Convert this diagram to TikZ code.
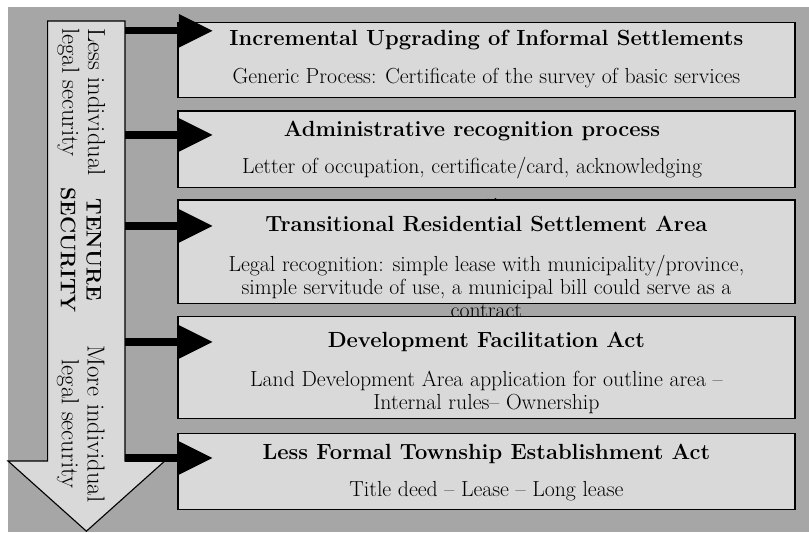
\documentclass[tikz,border=0pt]{standalone}
\usepackage{xcolor}
\usepackage{tikz}
\usetikzlibrary{positioning, arrows.meta}

\definecolor{bggray}{HTML}{A6A6A6}
\definecolor{boxgray}{HTML}{D9D9D9}

\tikzset{
  panel/.style={draw=black, line width=1pt, fill=boxgray, minimum width=15.43cm, inner sep=0pt},
  headtxt/.style={font=\fontsize{15.6}{18}\selectfont\bfseries, inner sep=0pt, anchor=base},
  bodytxt/.style={font=\fontsize{15.5}{16.6}\selectfont, align=center, inner sep=0pt, anchor=base},
  sidetxt/.style={font=\fontsize{17.5}{18.3}\selectfont, rotate=-90, inner sep=0pt},
  feed/.style={line width=5pt, -{Triangle[length=24pt, width=24pt, line width=0pt 0]}},
}

\begin{document}
\begin{tikzpicture}
        \useasboundingbox (0,0) rectangle (20.225,13.3);
        \fill[bggray] (0.2,0) rectangle (20.225,13.125);

        % tenure security arrow
        \draw[fill=boxgray, line width=0.8pt] (1.19,12.775) -- (3.125,12.775) -- (3.125,1.775)
          -- (4.12,1.775) -- (2.16,0.02) -- (0.2,1.775) -- (1.19,1.775) -- cycle;
        \node[sidetxt, anchor=west, align=left] (less) at (2.03,12.6) {Less individual\\legal security};
        \node[sidetxt, font=\fontsize{15}{18.3}\selectfont\bfseries, align=center] (tenure) at (2.02,7.05) {TENURE\\SECURITY};
        \node[sidetxt, align=center] (more) at (2.02,2.7) {More individual\\legal security};

        \coordinate (s1) at (3.125,12.53);
        \coordinate (s2) at (3.125,9.925);
        \coordinate (s3) at (3.125,7.65);
        \coordinate (s4) at (3.125,4.75);
        \coordinate (s5) at (3.125,1.85);

        % the five processes (a body's base is its last line)
        \node[panel, minimum height=1.875cm] (b1) at (12.16,11.795) {};
        \node[headtxt] (h1) at (12.16,12.15) {Incremental Upgrading of Informal Settlements};
        \node[bodytxt] (t1) at (12.16,11.2) {Generic Process: Certificate of the survey of basic services};

        \node[panel, minimum height=1.9175cm] (b2) at (12.16,9.566) {};
        \node[headtxt] (h2) at (11.8,9.8825) {Administrative recognition process};
        \node[bodytxt] (t2) at (11.8,7.995) {Letter of occupation, certificate/card, acknowledging\\[0.38cm]occupation};

        \node[panel, minimum height=2.5925cm] (b3) at (12.16,7.004) {};
        \node[headtxt] (h3) at (12.16,7.5075) {Transitional Residential Settlement Area};
        \node[bodytxt] (t3) at (12.16,5.35) {Legal recognition: simple lease with municipality/province,\\simple servitude of use, a municipal bill could serve as a\\contract};

        \node[panel, minimum height=2.55cm] (b4) at (12.16,4.108) {};
        \node[headtxt] (h4) at (12.16,4.6075) {Development Facilitation Act};
        \node[bodytxt] (t4) at (12.16,3.05) {Land Development Area application for outline area \textendash\\Internal rules\textendash{} Ownership};

        \node[panel, minimum height=1.9cm] (b5) at (12.16,1.5075) {};
        \node[headtxt] (h5) at (12.16,1.8175) {Less Formal Township Establishment Act};
        \node[bodytxt] (t5) at (12.16,0.8825) {Title deed \textendash{} Lease \textendash{} Long lease};

        \foreach \i in {1,...,5} {
          \draw[feed] (s\i) -- ([xshift=0.885cm]s\i -| b\i.west);
        }
      \end{tikzpicture}
\end{document}
